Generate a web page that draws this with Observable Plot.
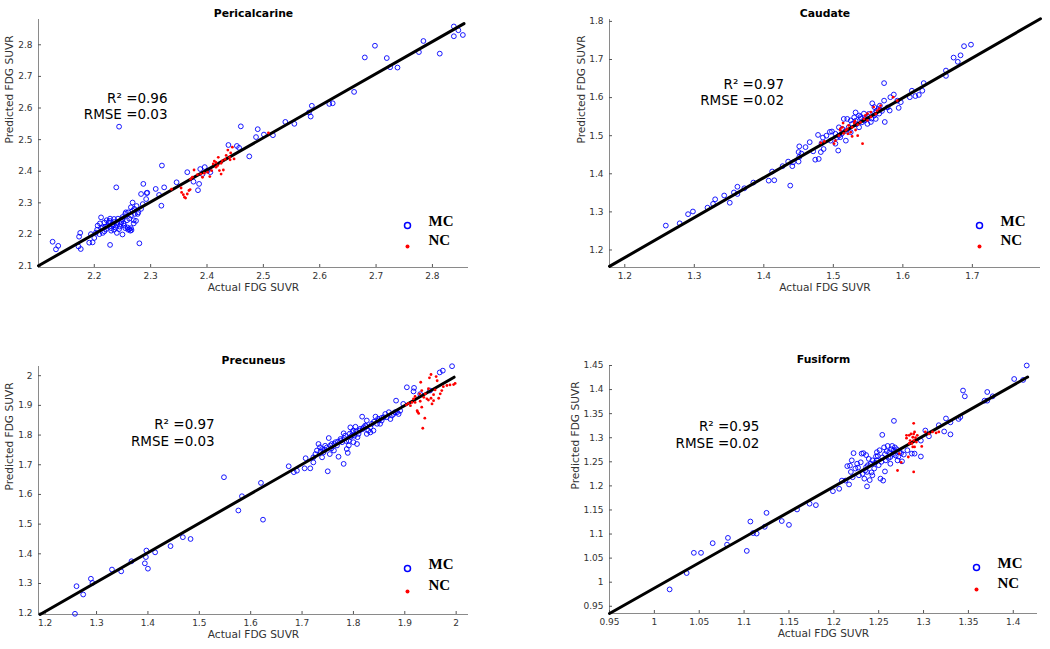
<!DOCTYPE html>
<html><head><meta charset="utf-8">
<script src="https://cdn.jsdelivr.net/npm/d3@7"></script>
<script src="https://cdn.jsdelivr.net/npm/@observablehq/plot@0.6"></script>
<style>
body{margin:0;background:#fff;}
#chart{position:relative;width:1050px;height:649px;background:#fff;overflow:hidden}
.panel{position:absolute}
</style></head><body><div id="chart"></div>
<script>
// ---------------- data ----------------
const pericalcarineMC = [
[2.838,2.858],[2.846,2.846],[2.838,2.827],[2.854,2.831],[2.784,2.812],[2.813,2.772],[2.776,2.777],[2.698,2.797],[2.680,2.760],[2.719,2.758],[2.725,2.729],[2.738,2.728],[2.661,2.651],[2.623,2.615],[2.617,2.613],[2.586,2.607],[2.581,2.586],[2.584,2.573],[2.539,2.556],[2.555,2.550],[2.517,2.514],[2.501,2.516],[2.490,2.533],[2.487,2.508],[2.460,2.542],[2.475,2.447],[2.453,2.480],[2.457,2.474],[2.438,2.483],
[2.388,2.407],[2.396,2.413],[2.401,2.402],[2.406,2.397],[2.392,2.391],[2.376,2.367],[2.365,2.397],[2.386,2.360],[2.384,2.340],[2.244,2.541],
[2.126,2.177],[2.132,2.153],[2.136,2.164],[2.172,2.162],[2.176,2.154],[2.173,2.193],[2.175,2.205],[2.191,2.174],[2.197,2.175],[2.194,2.201],[2.200,2.189],[2.203,2.206],[2.209,2.201],[2.212,2.254],[2.215,2.222],[2.206,2.228],[2.218,2.238],[2.221,2.217],[2.224,2.228],[2.227,2.243],[2.230,2.212],[2.228,2.167],[2.233,2.228],[2.235,2.249],[2.238,2.222],[2.241,2.238],[2.244,2.217],[2.239,2.349],[2.247,2.233],[2.250,2.249],[2.253,2.228],[2.256,2.270],[2.259,2.222],[2.262,2.217],[2.265,2.286],[2.268,2.301],[2.271,2.281],[2.264,2.212],[2.266,2.214],[2.274,2.243],[2.277,2.265],[2.280,2.172],[2.283,2.328],[2.287,2.360],[2.293,2.331],[2.294,2.332],[2.292,2.312],[2.286,2.296],[2.283,2.281],[2.309,2.344],[2.315,2.325],[2.319,2.291],[2.320,2.418],[2.324,2.349],[2.346,2.365],
[2.205,2.215],[2.210,2.235],[2.215,2.205],[2.220,2.225],[2.222,2.245],[2.226,2.238],[2.230,2.220],[2.232,2.232],[2.236,2.240],[2.240,2.230],[2.242,2.250],[2.245,2.225],[2.248,2.240],[2.250,2.255],[2.252,2.235],[2.255,2.265],[2.258,2.245],[2.260,2.270],[2.262,2.250],[2.265,2.260],[2.268,2.275],[2.270,2.245],[2.272,2.265],[2.275,2.290],[2.278,2.270],[2.260,2.215],[2.265,2.220],[2.270,2.235],[2.255,2.220],[2.218,2.210],[2.212,2.220],[2.240,2.205],[2.228,2.250],[2.250,2.200],[2.235,2.215]
];
const pericalcarineNC = [
[2.354,2.347],[2.355,2.333],[2.358,2.326],[2.360,2.318],[2.362,2.315],[2.365,2.328],[2.368,2.339],[2.370,2.342],[2.337,2.343],[2.371,2.375],[2.374,2.381],[2.377,2.404],[2.383,2.389],[2.389,2.391],[2.392,2.381],[2.395,2.394],[2.401,2.397],[2.405,2.383],[2.408,2.402],[2.411,2.423],[2.413,2.432],[2.416,2.428],[2.419,2.418],[2.420,2.444],[2.422,2.402],[2.425,2.391],[2.427,2.433],[2.429,2.404],[2.432,2.438],[2.434,2.450],[2.437,2.467],[2.440,2.444],[2.442,2.458],[2.445,2.476],[2.448,2.439],[2.441,2.436],[2.425,2.425],[2.416,2.413],[2.509,2.521]
];
const caudateMC = [
[1.259,1.264],[1.279,1.270],[1.291,1.294],[1.298,1.301],[1.319,1.311],[1.330,1.333],[1.327,1.321],[1.343,1.343],[1.351,1.324],[1.357,1.351],[1.362,1.366],[1.362,1.347],[1.372,1.362],[1.385,1.377],[1.407,1.382],[1.412,1.406],[1.415,1.383],[1.427,1.420],[1.435,1.432],[1.438,1.369],[1.441,1.420],[1.442,1.430],[1.450,1.432],[1.451,1.444],[1.451,1.472],[1.454,1.453],[1.450,1.457],[1.460,1.470],[1.466,1.483],[1.471,1.459],[1.474,1.437],[1.479,1.439],[1.478,1.502],[1.482,1.457],[1.486,1.465],[1.483,1.480],[1.498,1.511],[1.503,1.479],[1.507,1.461],[1.510,1.496],[1.515,1.544],[1.520,1.544],[1.522,1.522],[1.518,1.487],[1.527,1.531],[1.532,1.539],[1.537,1.522],[1.539,1.549],[1.544,1.558],[1.549,1.531],[1.554,1.536],[1.556,1.585],[1.559,1.553],[1.562,1.565],[1.566,1.558],[1.573,1.638],[1.573,1.592],[1.574,1.536],[1.578,1.574],[1.582,1.601],[1.587,1.608],[1.592,1.592],[1.594,1.573],[1.597,1.588],[1.610,1.601],[1.613,1.618],[1.618,1.604],[1.623,1.607],[1.628,1.618],[1.630,1.638],[1.662,1.671],[1.662,1.657],[1.673,1.705],[1.683,1.711],[1.679,1.694],[1.688,1.735],[1.698,1.739],[1.559,1.575],[1.541,1.535],[1.503,1.505],[1.496,1.487],[1.532,1.561],[1.537,1.553],[1.546,1.544],[1.551,1.557],[1.561,1.544],[1.513,1.518],[1.525,1.509],[1.508,1.500],[1.567,1.579],[1.581,1.566],[1.530,1.548],[1.508,1.522],
[1.525,1.540],[1.533,1.530],[1.540,1.545],[1.545,1.540],[1.550,1.550],[1.555,1.545],[1.560,1.560],[1.565,1.570],[1.570,1.565],[1.517,1.512],[1.512,1.505],[1.505,1.495],[1.490,1.500],[1.495,1.510],[1.485,1.495]
];
const caudateNC = [
[1.482,1.481],[1.487,1.485],[1.503,1.487],[1.501,1.479],[1.508,1.500],[1.510,1.514],[1.513,1.522],[1.515,1.506],[1.518,1.514],[1.520,1.518],[1.521,1.505],[1.525,1.509],[1.527,1.522],[1.530,1.533],[1.532,1.515],[1.535,1.500],[1.535,1.529],[1.539,1.535],[1.542,1.479],[1.544,1.544],[1.546,1.553],[1.549,1.540],[1.554,1.549],[1.558,1.575],[1.561,1.557],[1.563,1.566],[1.566,1.571],[1.568,1.579],[1.586,1.601],[1.592,1.592],[1.514,1.533],[1.522,1.527],[1.527,1.498],[1.510,1.518],[1.531,1.538],[1.549,1.558],[1.554,1.562]
];
const precuneusMC = [
[1.258,1.198],[1.261,1.291],[1.274,1.263],[1.289,1.316],[1.292,1.302],[1.330,1.347],[1.348,1.341],[1.368,1.375],[1.397,1.411],[1.396,1.389],[1.394,1.368],[1.400,1.350],[1.414,1.405],[1.444,1.426],[1.468,1.456],[1.483,1.450],[1.548,1.658],[1.576,1.546],[1.583,1.594],[1.620,1.639],[1.624,1.515],[1.674,1.695],[1.684,1.675],[1.690,1.680],[1.707,1.722],[1.705,1.688],[1.716,1.688],[1.722,1.708],[1.726,1.736],[1.732,1.770],[1.739,1.725],[1.739,1.753],[1.745,1.764],[1.750,1.678],[1.752,1.790],[1.754,1.736],[1.758,1.770],[1.768,1.765],[1.771,1.727],[1.775,1.787],[1.781,1.806],[1.781,1.703],[1.787,1.753],[1.789,1.740],[1.791,1.781],[1.794,1.826],[1.797,1.798],[1.800,1.815],[1.804,1.828],[1.807,1.770],[1.808,1.793],[1.817,1.862],[1.820,1.826],[1.826,1.849],[1.829,1.815],[1.836,1.838],[1.839,1.815],[1.843,1.862],[1.849,1.849],[1.852,1.838],[1.859,1.860],[1.862,1.871],[1.869,1.877],[1.872,1.854],[1.878,1.871],[1.883,1.916],[1.885,1.877],[1.891,1.882],[1.904,1.961],[1.917,1.947],[1.918,1.959],[1.930,1.938],[1.949,1.950],[1.968,2.011],[1.974,2.017],[1.992,2.032],[1.897,1.905],
[1.729,1.748],[1.735,1.759],[1.762,1.748],[1.765,1.776],[1.778,1.776],[1.784,1.798],[1.794,1.793],[1.802,1.798],[1.810,1.804],[1.813,1.821],[1.823,1.832],[1.833,1.826],[1.846,1.838],[1.855,1.849],[1.865,1.860],[1.875,1.866],[1.881,1.877],[1.888,1.871],[1.833,1.809],[1.826,1.804],[1.800,1.776],[1.791,1.765],[1.755,1.765],[1.742,1.742],[1.722,1.725],
[1.736,1.745],[1.744,1.750],[1.748,1.758],[1.757,1.755],[1.763,1.770],[1.770,1.778],[1.776,1.782],[1.782,1.790],[1.786,1.780],[1.793,1.805],[1.798,1.810],[1.805,1.812],[1.812,1.815],[1.818,1.820],[1.825,1.830],[1.840,1.845],[1.848,1.855],[1.855,1.858]
];
const precuneusNC = [
[1.903,1.902],[1.907,1.907],[1.911,1.899],[1.914,1.910],[1.917,1.922],[1.920,1.930],[1.924,1.882],[1.927,1.873],[1.925,1.878],[1.929,1.939],[1.931,1.978],[1.933,1.894],[1.937,1.927],[1.939,1.857],[1.940,1.939],[1.935,1.823],[1.943,1.922],[1.946,1.956],[1.948,1.993],[1.951,2.004],[1.953,1.905],[1.956,1.916],[1.959,1.952],[1.961,1.997],[1.963,1.983],[1.966,1.924],[1.969,1.939],[1.972,1.950],[1.975,1.963],[1.982,1.967],[1.988,1.969],[1.995,1.970],[1.998,1.974],[1.956,1.936],[1.946,1.918],[1.951,1.924],[1.933,1.950],[1.920,1.910],[1.930,1.914]
];
const fusiformMC = [
[1.017,0.985],[1.036,1.019],[1.044,1.061],[1.052,1.061],[1.065,1.081],[1.081,1.078],[1.082,1.092],[1.103,1.065],[1.107,1.126],[1.110,1.102],[1.114,1.101],[1.123,1.115],[1.125,1.144],[1.142,1.127],[1.150,1.119],[1.159,1.151],[1.173,1.163],[1.180,1.160],[1.199,1.189],[1.206,1.194],[1.209,1.211],[1.215,1.241],[1.217,1.203],[1.220,1.253],[1.222,1.268],[1.231,1.267],[1.233,1.268],[1.237,1.199],[1.247,1.261],[1.254,1.306],[1.255,1.211],[1.267,1.335],[1.257,1.230],[1.276,1.251],[1.287,1.267],[1.290,1.267],[1.297,1.261],[1.297,1.294],[1.302,1.315],[1.306,1.303],[1.317,1.326],[1.323,1.313],[1.325,1.340],[1.330,1.307],[1.330,1.332],[1.339,1.339],[1.341,1.343],[1.344,1.398],[1.346,1.386],[1.368,1.377],[1.371,1.395],[1.377,1.386],[1.371,1.377],[1.401,1.422],[1.411,1.420],[1.415,1.450],
[1.224,1.236],[1.226,1.246],[1.230,1.249],[1.232,1.225],[1.234,1.215],[1.236,1.239],[1.237,1.229],[1.239,1.256],[1.241,1.246],[1.243,1.222],[1.245,1.236],[1.248,1.253],[1.250,1.243],[1.251,1.274],[1.252,1.215],[1.254,1.259],[1.256,1.280],[1.258,1.253],[1.260,1.283],[1.262,1.270],[1.263,1.260],[1.265,1.283],[1.267,1.274],[1.269,1.263],[1.271,1.253],[1.273,1.270],[1.228,1.222],[1.219,1.229],[1.213,1.211],[1.243,1.253],[1.248,1.270],[1.263,1.246],[1.282,1.274],[1.236,1.264],
[1.235,1.232],[1.238,1.243],[1.242,1.228],[1.246,1.248],[1.249,1.262],[1.253,1.250],[1.257,1.266],[1.259,1.272],[1.261,1.258],[1.264,1.276],[1.266,1.266],[1.268,1.280],[1.270,1.276],[1.272,1.261],[1.275,1.268],[1.278,1.265],[1.227,1.238],[1.221,1.218],[1.218,1.242],[1.240,1.212]
];
const fusiformNC = [
[1.273,1.267],[1.271,1.232],[1.275,1.249],[1.281,1.299],[1.283,1.260],[1.284,1.305],[1.285,1.294],[1.286,1.308],[1.287,1.288],[1.288,1.301],[1.289,1.330],[1.289,1.294],[1.289,1.229],[1.290,1.312],[1.291,1.300],[1.292,1.291],[1.293,1.305],[1.288,1.281],[1.290,1.281],[1.298,1.282],[1.302,1.312],[1.306,1.308],[1.310,1.312],[1.314,1.310],[1.317,1.312],[1.284,1.288],[1.281,1.305],[1.289,1.308]
];
// fitted line end points [x, y]
const pericalcarineFit = [[2.101,2.101],[2.856,2.867]];
const caudateFit = [[1.178,1.157],[1.798,1.807]];
const precuneusFit = [[1.190,1.1955],[1.996,1.995]];
const fusiformFit = [[0.950,0.935],[1.416,1.426]];
// tick values
const pericalcarineXTicks = [2.2,2.3,2.4,2.5,2.6,2.7,2.8];
const pericalcarineYTicks = [2.1,2.2,2.3,2.4,2.5,2.6,2.7,2.8];
const caudateXTicks = [1.2,1.3,1.4,1.5,1.6,1.7];
const caudateYTicks = [1.2,1.3,1.4,1.5,1.6,1.7,1.8];
const precuneusXTicks = [1.2,1.3,1.4,1.5,1.6,1.7,1.8,1.9,2];
const precuneusYTicks = [1.2,1.3,1.4,1.5,1.6,1.7,1.8,1.9,2];
const fusiformXTicks = [0.95,1,1.05,1.1,1.15,1.2,1.25,1.3,1.35,1.4];
const fusiformYTicks = [0.95,1,1.05,1.1,1.15,1.2,1.25,1.3,1.35,1.4,1.45];
// stats
const regionNames = ["Pericalcarine","Caudate","Precuneus","Fusiform"];
const r2Values = ["0.96","0.97","0.97","0.95"];
const rmseValues = ["0.03","0.02","0.03","0.02"];
const groupNames = ["MC","NC"];
const xLabel = "Actual FDG SUVR";
const yLabel = "Predicted FDG SUVR";

// ---------------- layout ----------------
const panels = [
  {mc: pericalcarineMC, nc: pericalcarineNC, fit: pericalcarineFit, xt: pericalcarineXTicks, yt: pericalcarineYTicks,
   left: 0, top: 0, height: 320, m: {top: 19, right: 57, bottom: 53, left: 38},
   xd: [2.101, 2.864], yd: [2.0955, 2.880], stat: [2.330, 2.608], ylabDx: -29, leg: {mcDy: -42, ncDy: -21}},
  {mc: caudateMC, nc: caudateNC, fit: caudateFit, xt: caudateXTicks, yt: caudateYTicks,
   left: 525, top: 0, height: 320, m: {top: 19, right: 10, bottom: 53, left: 84},
   xd: [1.178, 1.798], yd: [1.154, 1.805], stat: [1.429, 1.616], ylabDx: -28, leg: {mcDy: -42, ncDy: -21}},
  {mc: precuneusMC, nc: precuneusNC, fit: precuneusFit, xt: precuneusXTicks, yt: precuneusYTicks,
   left: 0, top: 320, height: 329, m: {top: 46, right: 57, bottom: 35, left: 38},
   xd: [1.187, 2.024], yd: [1.1956, 2.031], stat: [1.530, 1.809], ylabDx: -29, leg: {mcDy: -46, ncDy: -23}},
  {mc: fusiformMC, nc: fusiformNC, fit: fusiformFit, xt: fusiformXTicks, yt: fusiformYTicks,
   left: 525, top: 320, height: 329, m: {top: 45, right: 13, bottom: 36, left: 84},
   xd: [0.95, 1.427], yd: [0.935, 1.45], stat: [1.117, 1.307], ylabDx: -34, leg: {mcDy: -46, ncDy: -24}}
];

const fmt = d => String(+d.toFixed(2));
const axisGray = "#8a8a8a";
const textGray = "#333333";
const chart = document.getElementById("chart");

panels.forEach((p, i) => {
  const svg = Plot.plot({
    width: 525,
    height: p.height,
    marginTop: p.m.top, marginRight: p.m.right, marginBottom: p.m.bottom, marginLeft: p.m.left,
    style: {fontFamily: "'DejaVu Sans', sans-serif", fontSize: "9px", background: "#fff", color: textGray, overflow: "visible"},
    x: {domain: p.xd},
    y: {domain: p.yd},
    marks: [
      Plot.ruleX([p.xd[0]], {stroke: axisGray, strokeWidth: 1}),
      Plot.ruleY([p.yd[0]], {stroke: axisGray, strokeWidth: 1}),
      Plot.axisX({ticks: p.xt, tickFormat: fmt, tickSize: -3, tickPadding: 8, label: null, stroke: "#555", fill: textGray, fontSize: 9}),
      Plot.axisY({ticks: p.yt, tickFormat: fmt, tickSize: -3, tickPadding: 9, label: null, stroke: "#555", fill: textGray, fontSize: 9}),
      Plot.dot(p.mc, {x: d => d[0], y: d => d[1], r: 2.4, stroke: "#0000ff", strokeWidth: 0.9, fill: "none"}),
      Plot.line(p.fit, {x: d => d[0], y: d => d[1], stroke: "#000", strokeWidth: 3}),
      Plot.dot(p.nc, {x: d => d[0], y: d => d[1], r: 1.4, fill: "#ff0000", stroke: "none"}),
      Plot.text([`R\u00B2 =${r2Values[i]}\nRMSE =${rmseValues[i]}`], {x: () => p.stat[0], y: () => p.stat[1], textAnchor: "end", lineAnchor: "middle", lineHeight: 1.22, fontSize: 13.5, fill: "#000"}),
      Plot.text([regionNames[i]], {frameAnchor: "top", dy: -10, fontWeight: "bold", fontSize: 10.8, fill: "#000"}),
      Plot.text([xLabel], {frameAnchor: "bottom", dy: 23, fontSize: 10.6, fill: textGray}),
      Plot.text([yLabel], {frameAnchor: "left", dx: p.ylabDx, rotate: -90, fontSize: 10.6, fill: textGray}),
      Plot.dot([groupNames[0]], {frameAnchor: "bottom-right", dx: -61, dy: p.leg.mcDy, r: 3, stroke: "#0000ff", strokeWidth: 1.5, fill: "none"}),
      Plot.dot([groupNames[1]], {frameAnchor: "bottom-right", dx: -61, dy: p.leg.ncDy, r: 2, fill: "#ff0000"}),
      Plot.text([groupNames[0]], {frameAnchor: "bottom-right", dx: -40, dy: p.leg.mcDy, textAnchor: "start", fontFamily: "'Liberation Serif', serif", fontWeight: "bold", fontSize: 15, fill: "#000"}),
      Plot.text([groupNames[1]], {frameAnchor: "bottom-right", dx: -40, dy: p.leg.ncDy - 2, textAnchor: "start", fontFamily: "'Liberation Serif', serif", fontWeight: "bold", fontSize: 15, fill: "#000"})
    ]
  });
  const wrap = document.createElement("div");
  wrap.className = "panel";
  wrap.style.left = p.left + "px";
  wrap.style.top = p.top + "px";
  wrap.appendChild(svg);
  chart.appendChild(wrap);
});
</script></body></html>
